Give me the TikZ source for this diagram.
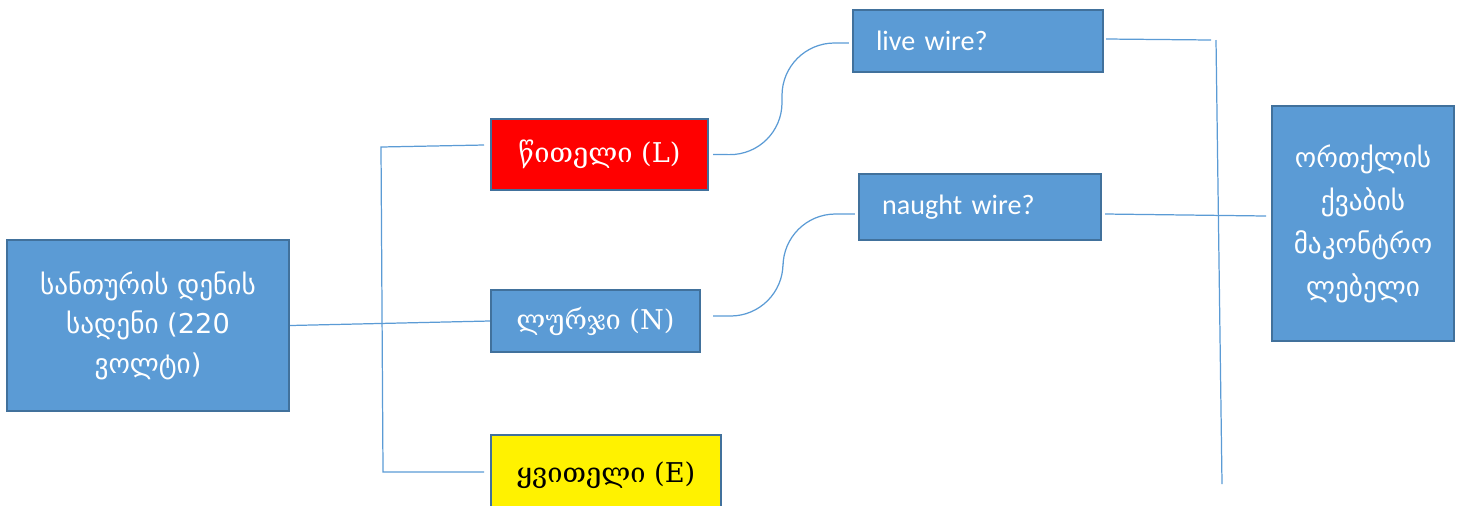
\documentclass[tikz,border=0pt]{standalone}
\usepackage{fontspec}
\usepackage{xcolor}
\usepackage{tikz}
\usetikzlibrary{positioning,calc}
\setmainfont{Carlito}
\newfontfamily\geosans{DejaVu Sans}
\newfontfamily\geoserif{DejaVu Serif}
\definecolor{office}{RGB}{91,155,213}
\definecolor{edge}{RGB}{65,113,156}
\definecolor{wireblue}{RGB}{91,155,213}

\begin{document}
\begin{tikzpicture}[
    x=0.02cm, y=-0.02cm,
    box/.style={draw=edge, line width=1.4pt, fill=office, text=white, inner sep=0pt},
    wire/.style={draw=wireblue, line width=0.7pt},
    curve/.style={wire, rounded corners=1.05cm}
]
    \useasboundingbox (0,0) rectangle (1463,505);

    % Source
    \node[box, minimum width=5.64cm, minimum height=3.42cm, align=center,
          font=\geosans\fontsize{15.5}{22.5}\selectfont] (src) at (148,325.5)
          {სანთურის დენის\\სადენი (220\\ვოლტი)};

    % Wire colours
    \node[box, fill=red, minimum width=4.34cm, minimum height=1.42cm,
          font=\geoserif\fontsize{15.5}{19}\selectfont] (live) at (599.5,154.5) {წითელი (L)};
    \node[box, minimum width=4.18cm, minimum height=1.24cm,
          font=\geoserif\fontsize{15.5}{19}\selectfont] (neutral) at (595.5,321) {ლურჯი (N)};
    \node[box, fill=yellow, text=black, minimum width=4.6cm, minimum height=1.6cm,
          font=\geoserif\fontsize{15.5}{19}\selectfont] (earth) at (606,475) {ყვითელი (E)};

    % Questions
    \node[box, minimum width=5cm, minimum height=1.24cm, text width=4.08cm, align=left,
          font=\fontsize{16}{19}\selectfont] (liveq) at (978,41) {live wire?};
    \node[box, minimum width=4.84cm, minimum height=1.32cm, text width=3.92cm, align=left,
          font=\fontsize{16}{19}\selectfont] (naughtq) at (980,207) {naught wire?};

    % Controller
    \node[box, minimum width=3.64cm, minimum height=4.7cm, align=center,
          font=\geosans\fontsize{15.5}{24.5}\selectfont] (ctrl) at (1363,223.5)
          {ორთქლის\\ქვაბის\\მაკონტრო\\ლებელი};

    % Bus ends
    \coordinate (busTop) at (381,147);
    \coordinate (busBot) at (383,472);
    \coordinate (liveIn) at (484,145);
    \coordinate (earthIn) at (484,472);
    \coordinate (rTop) at (1216,40);
    \coordinate (rBot) at (1222,484);
    \coordinate (liveOut) at (1211,40);
    \coordinate (ctrlIn) at (1266,216);

    % Connections
    \draw[wire] (src.east) -- (neutral.west);
    \draw[wire] (liveIn) -- (busTop) -- (busBot) -- (earthIn);
    \draw[curve] ($(live.east)+(4,0)$) -- (782,155) -- (782,43) -- ($(liveq.west)+(-3,2)$);
    \draw[curve] ($(neutral.east)+(12,-5)$) -- (783,316) -- (783,214) -- ($(naughtq.west)+(-3,7)$);
    \draw[wire] ($(liveq.east)+(2,-2)$) -- (liveOut);
    \draw[wire] (rTop) -- (rBot);
    \draw[wire] ($(naughtq.east)+(3,7)$) -- (ctrlIn);
\end{tikzpicture}
\end{document}
